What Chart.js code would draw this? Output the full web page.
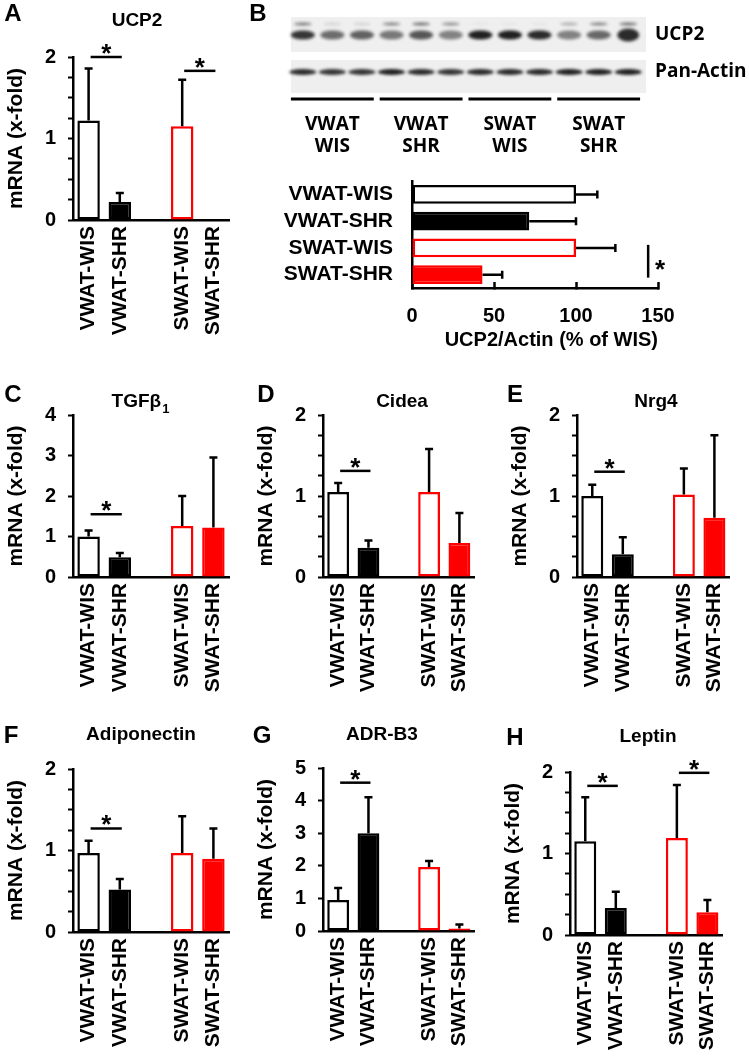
<!DOCTYPE html>
<html>
<head>
<meta charset="utf-8">
<script src="https://cdn.jsdelivr.net/npm/chart.js@4.4.1/dist/chart.umd.min.js"></script>
<style>
  html, body { margin: 0; padding: 0; background: #fff; }
  body { width: 749px; height: 1063px; position: relative; overflow: hidden; }
  canvas { position: absolute; }
</style>
</head>
<body>
<canvas id="blot"></canvas>
<canvas id="chartB"></canvas>
<canvas id="chartA"></canvas>
<canvas id="chartC"></canvas>
<canvas id="chartD"></canvas>
<canvas id="chartE"></canvas>
<canvas id="chartF"></canvas>
<canvas id="chartG"></canvas>
<canvas id="chartH"></canvas>
<script>
const groups = ['VWAT-WIS', 'VWAT-SHR', '', 'SWAT-WIS', 'SWAT-SHR'];

// mRNA (x-fold): mean and upper SD, null = gap between depots
const ucp2Mean   = [1.22, 0.22, null, 1.15, 0];
const ucp2Sd     = [0.64, 0.11, null, 0.57, 0];
const tgfMean    = [1.00, 0.49, null, 1.26, 1.22];
const tgfSd      = [0.15, 0.10, null, 0.74, 1.73];
const cideaMean  = [1.05, 0.36, null, 1.05, 0.42];
const cideaSd    = [0.11, 0.09, null, 0.53, 0.37];
const nrg4Mean   = [1.00, 0.28, null, 1.02, 0.73];
const nrg4Sd     = [0.14, 0.21, null, 0.32, 1.02];
const adipoMean  = [0.97, 0.52, null, 0.97, 0.90];
const adipoSd    = [0.15, 0.13, null, 0.45, 0.37];
const adrMean    = [0.95, 3.00, null, 1.96, 0.08];
const adrSd      = [0.37, 1.10, null, 0.19, 0.12];
const leptinMean = [1.15, 0.33, null, 1.19, 0.28];
const leptinSd   = [0.54, 0.20, null, 0.65, 0.15];

// y ticks (labels only on whole numbers)
const ticks2 = [0, 0.25, 0.5, 0.75, 1, 1.25, 1.5, 1.75, 2];
const ticks4 = [0, 1, 2, 3, 4];
const ticks5 = [0, 1, 2, 3, 4, 5];

// significance bars: [from bar, to bar, height]
const ucp2Sig   = [[0, 1, 2.0], [3, 4, 1.83]];
const tgfSig    = [[0, 1, 1.55]];
const cideaSig  = [[0, 1, 1.31]];
const nrg4Sig   = [[0, 1, 1.30]];
const adipoSig  = [[0, 1, 1.27]];
const adrSig    = [[0, 1, 4.55]];
const leptinSig = [[0, 1, 1.83], [3, 4, 1.99]];

// western blot (B)
const bLabels = ['VWAT-WIS', 'VWAT-SHR', 'SWAT-WIS', 'SWAT-SHR'];
const bMean = [100, 71.5, 100, 43];
const bSd = [13, 28.5, 24, 12];
const bTicks = [0, 50, 100, 150];
const bSig = [2, 3, 144];
const blotGroups = [['VWAT', 'WIS'], ['VWAT', 'SHR'], ['SWAT', 'WIS'], ['SWAT', 'SHR']];
const upperBand = [0.55, 0.12, 0.12, 0.5, 0.6, 0.45, 0.04, 0.04, 0.04, 0.3, 0.5, 0.6];
const ucp2Band  = [0.85, 0.6, 0.65, 0.55, 0.7, 0.5, 0.95, 0.95, 0.9, 0.5, 0.62, 0.9];
const actinBand = [0.9, 0.85, 0.85, 0.95, 0.9, 0.85, 0.9, 0.9, 0.9, 0.95, 0.95, 0.95];

const FONT = '"Liberation Sans", Arial, sans-serif';
const BLOTFONT = '"Open Sans", sans-serif';
Chart.defaults.font.family = FONT;
Chart.defaults.color = '#000';

const fillColors = ['#ffffff', '#000000', '#ffffff', '#ffffff', '#ff0000'];
const edgeColors = ['#000000', '#000000', '#000000', '#ff0000', '#ff0000'];

const panels = [
  { id: 'chartA', letter: 'A', title: 'UCP2', mean: ucp2Mean, sd: ucp2Sd, sig: ucp2Sig, ticks: ticks2,
    axisX: 73, topY: 57, zeroY: 220, right: 232, letterPos: [13, 14], titlePos: [137, 21] },
  { id: 'chartC', letter: 'C', title: 'TGFβ', sub: '1', mean: tgfMean, sd: tgfSd, sig: tgfSig, ticks: ticks4,
    axisX: 73, topY: 415, zeroY: 577, right: 232, letterPos: [13, 395], titlePos: [140, 402] },
  { id: 'chartD', letter: 'D', title: 'Cidea', mean: cideaMean, sd: cideaSd, sig: cideaSig, ticks: ticks2,
    axisX: 323, topY: 415, zeroY: 577, right: 478, letterPos: [266, 395], titlePos: [402, 402] },
  { id: 'chartE', letter: 'E', title: 'Nrg4', mean: nrg4Mean, sd: nrg4Sd, sig: nrg4Sig, ticks: ticks2,
    axisX: 577, topY: 415, zeroY: 577, right: 733, letterPos: [515, 395], titlePos: [656, 402] },
  { id: 'chartF', letter: 'F', title: 'Adiponectin', mean: adipoMean, sd: adipoSd, sig: adipoSig, ticks: ticks2,
    axisX: 73, topY: 769, zeroY: 932, right: 232, letterPos: [11, 736], titlePos: [141, 735] },
  { id: 'chartG', letter: 'G', title: 'ADR-B3', mean: adrMean, sd: adrSd, sig: adrSig, ticks: ticks5,
    axisX: 323, topY: 768, zeroY: 931, right: 478, letterPos: [262, 736], titlePos: [382, 735] },
  { id: 'chartH', letter: 'H', title: 'Leptin', mean: leptinMean, sd: leptinSd, sig: leptinSig, ticks: ticks2,
    axisX: 570, topY: 772, zeroY: 935, right: 726, letterPos: [515, 738], titlePos: [648, 737] }
];

function drawStar(ctx, x, y) {
  ctx.font = 'bold 26px ' + FONT;
  ctx.textAlign = 'center';
  ctx.textBaseline = 'alphabetic';
  ctx.fillText('*', x, y);
}

function panelPlugin(p, x0, y0) {
  return {
    id: 'panel',
    afterDatasetsDraw(chart) {
      const ctx = chart.ctx;
      const meta = chart.getDatasetMeta(0);
      const y = chart.scales.y;
      ctx.save();
      ctx.strokeStyle = '#000';
      ctx.fillStyle = '#000';
      ctx.lineWidth = 2.5;
      p.mean.forEach((m, i) => {
        if (m == null || !p.sd[i]) return;
        const bar = meta.data[i];
        const yTop = y.getPixelForValue(m + p.sd[i]);
        ctx.beginPath();
        ctx.moveTo(bar.x, bar.y);
        ctx.lineTo(bar.x, yTop);
        ctx.moveTo(bar.x - 4, yTop);
        ctx.lineTo(bar.x + 4, yTop);
        ctx.stroke();
      });
      p.sig.forEach(([a, b, v]) => {
        const x1 = meta.data[a].x + 2, x2 = meta.data[b].x + 2;
        const yy = y.getPixelForValue(v);
        ctx.beginPath();
        ctx.moveTo(x1, yy);
        ctx.lineTo(x2, yy);
        ctx.stroke();
        drawStar(ctx, (x1 + x2) / 2, yy + 5);
      });
      ctx.restore();
    },
    afterDraw(chart) {
      const ctx = chart.ctx;
      ctx.save();
      ctx.fillStyle = '#000';
      ctx.textBaseline = 'middle';
      ctx.textAlign = 'center';
      ctx.font = 'bold 24px ' + FONT;
      ctx.fillText(p.letter, p.letterPos[0] - x0, p.letterPos[1] - y0);
      ctx.font = 'bold 19px ' + FONT;
      const tx = p.titlePos[0] - x0, ty = p.titlePos[1] - y0;
      if (p.sub) {
        const w = ctx.measureText(p.title).width;
        ctx.font = 'bold 13px ' + FONT;
        const ws = ctx.measureText(p.sub).width;
        ctx.textAlign = 'left';
        ctx.font = 'bold 19px ' + FONT;
        ctx.fillText(p.title, tx - (w + ws) / 2, ty);
        ctx.font = 'bold 13px ' + FONT;
        ctx.fillText(p.sub, tx - (w + ws) / 2 + w + 1, ty + 7);
      } else {
        ctx.fillText(p.title, tx, ty);
      }
      ctx.restore();
    }
  };
}

function mrnaChart(p) {
  const x0 = p.axisX - 73, y0 = p.topY - 57;
  const w = p.right - x0 + 14, h = p.zeroY + 128 - y0;
  const cv = document.getElementById(p.id);
  cv.width = w; cv.height = h;
  cv.style.left = x0 + 'px'; cv.style.top = y0 + 'px';
  new Chart(cv, {
    type: 'bar',
    data: {
      labels: groups,
      datasets: [{
        data: p.mean,
        backgroundColor: fillColors,
        borderColor: edgeColors,
        borderWidth: 2.5,
        borderSkipped: false,
        categoryPercentage: 1,
        barPercentage: 0.72
      }]
    },
    options: {
      responsive: false,
      animation: false,
      devicePixelRatio: 1,
      layout: { padding: { left: 4, top: p.topY - y0, right: x0 + w - p.right, bottom: 2 } },
      plugins: { legend: { display: false }, tooltip: { enabled: false } },
      scales: {
        x: {
          grid: { display: true, drawOnChartArea: false, drawTicks: false },
          border: { color: '#000', width: 2.5 },
          ticks: { color: '#000', font: { size: 21, weight: 'bold' }, minRotation: 90, maxRotation: 90, autoSkip: false, padding: 6 },
          afterFit: s => { s.height = y0 + h - 2 - p.zeroY; }
        },
        y: {
          min: 0, max: p.ticks[p.ticks.length - 1],
          ticks: {
            autoSkip: false, color: '#000', padding: 12,
            font: { size: 20, weight: 'bold' },
            callback: v => Number.isInteger(v) ? v : ''
          },
          // use every tick value, also the unlabelled quarter steps
          afterBuildTicks: axis => { axis.ticks = p.ticks.map(v => ({ value: v })); },
          grid: { drawOnChartArea: false, drawTicks: true, tickLength: 5, tickWidth: 2, tickColor: '#000' },
          border: { color: '#000', width: 2.5 },
          title: { display: true, text: 'mRNA (x-fold)', color: '#000', font: { size: 21, weight: 'bold' }, padding: 0 },
          afterFit: s => { s.width = p.axisX - x0 - 4; }
        }
      }
    },
    plugins: [panelPlugin(p, x0, y0)]
  });
}

panels.forEach(mrnaChart);

// ---- B: densitometry bars ----
(function () {
  const x0 = 250, y0 = 146, w = 499, h = 214;
  const left = 412, top = 181, right = 658, bottom = 288;
  const cv = document.getElementById('chartB');
  cv.width = w; cv.height = h;
  cv.style.left = x0 + 'px'; cv.style.top = y0 + 'px';
  new Chart(cv, {
    type: 'bar',
    data: {
      labels: bLabels,
      datasets: [{
        data: bMean,
        backgroundColor: ['#ffffff', '#000000', '#ffffff', '#ff0000'],
        borderColor: ['#000000', '#000000', '#ff0000', '#ff0000'],
        borderWidth: 2.5,
        borderSkipped: false,
        categoryPercentage: 1,
        barPercentage: 0.7
      }]
    },
    options: {
      indexAxis: 'y',
      responsive: false,
      animation: false,
      devicePixelRatio: 1,
      layout: { padding: { left: 4, top: top - y0, right: x0 + w - right, bottom: 2 } },
      plugins: { legend: { display: false }, tooltip: { enabled: false } },
      scales: {
        x: {
          min: bTicks[0], max: bTicks[bTicks.length - 1],
          ticks: { color: '#000', font: { size: 20, weight: 'bold' }, padding: 22 },
          afterBuildTicks: axis => { axis.ticks = bTicks.map(v => ({ value: v })); },
          grid: { drawOnChartArea: false, drawTicks: true, tickLength: -6, tickWidth: 2.5, tickColor: '#000' },
          border: { color: '#000', width: 2.5 },
          title: { display: true, text: 'UCP2/Actin (% of WIS)', align: 'end', color: '#000', font: { size: 20, weight: 'bold' }, padding: { top: 0, bottom: 6 } },
          afterFit: s => { s.height = y0 + h - 2 - bottom; }
        },
        y: {
          ticks: { color: '#000', font: { size: 21, weight: 'bold' }, padding: 19, autoSkip: false },
          grid: { drawOnChartArea: false, drawTicks: false },
          border: { color: '#000', width: 2.5 },
          afterFit: s => { s.width = left - x0 - 4; }
        }
      }
    },
    plugins: [{
      id: 'errB',
      afterDatasetsDraw(chart) {
        const ctx = chart.ctx;
        const meta = chart.getDatasetMeta(0);
        const xs = chart.scales.x;
        ctx.save();
        ctx.strokeStyle = '#000';
        ctx.fillStyle = '#000';
        ctx.lineWidth = 2.5;
        bMean.forEach((m, i) => {
          const bar = meta.data[i];
          const xe = xs.getPixelForValue(m + bSd[i]);
          ctx.beginPath();
          ctx.moveTo(bar.x, bar.y);
          ctx.lineTo(xe, bar.y);
          ctx.moveTo(xe, bar.y - 4);
          ctx.lineTo(xe, bar.y + 4);
          ctx.stroke();
        });
        const xv = xs.getPixelForValue(bSig[2]);
        const ya = meta.data[bSig[0]].y - 3, yb = meta.data[bSig[1]].y + 3;
        ctx.beginPath();
        ctx.moveTo(xv, ya);
        ctx.lineTo(xv, yb);
        ctx.stroke();
        drawStar(ctx, xv + 12, (ya + yb) / 2 + 17);
        ctx.restore();
      }
    }]
  });
})();

// ---- B: blot image ----
(function () {
  const x0 = 250, y0 = 0, w = 499, h = 165;
  const padL = 35, padT = 10;
  const cv = document.getElementById('blot');
  cv.width = w; cv.height = h;
  cv.style.left = x0 + 'px'; cv.style.top = y0 + 'px';

  function band(bw, bh, a) {
    const c = document.createElement('canvas');
    c.width = bw + 10; c.height = bh + 10;
    const g = c.getContext('2d');
    g.filter = 'blur(1.8px)';
    g.fillStyle = 'rgba(20,20,20,' + a + ')';
    g.beginPath();
    g.ellipse(c.width / 2, c.height / 2, bw / 2, bh / 2, 0, 0, Math.PI * 2);
    g.fill();
    return c;
  }
  const upperImg = upperBand.map(a => band(18, 3, a));
  const ucp2Img = ucp2Band.map((a, i) => band(i === 11 ? 22 : 24, i === 11 ? 13 : 9, a));
  const actinImg = actinBand.map(a => band(27, 6, a));

  new Chart(cv, {
    type: 'scatter',
    data: {
      datasets: [
        { data: upperBand.map((a, i) => ({ x: i, y: 14 })), pointStyle: c => upperImg[c.dataIndex], pointRadius: 3 },
        { data: ucp2Band.map((a, i) => ({ x: i, y: 25 })), pointStyle: c => ucp2Img[c.dataIndex], pointRadius: 3 },
        { data: actinBand.map((a, i) => ({ x: i, y: 62 })), pointStyle: c => actinImg[c.dataIndex], pointRadius: 3 }
      ]
    },
    options: {
      responsive: false,
      animation: false,
      devicePixelRatio: 1,
      layout: { padding: { left: padL, top: padT, right: w - padL - 361, bottom: h - padT - 150 } },
      plugins: { legend: { display: false }, tooltip: { enabled: false } },
      scales: {
        x: { display: false, min: -0.6, max: 11.6 },
        y: { display: false, min: 0, max: 150, reverse: true }
      }
    },
    plugins: [{
      id: 'blotFrame',
      beforeDatasetsDraw(chart) {
        const ctx = chart.ctx, xs = chart.scales.x, ys = chart.scales.y;
        ctx.save();
        ctx.fillStyle = '#efefef';
        const xl = xs.getPixelForValue(-0.4), xr = xs.getPixelForValue(11.6);
        ctx.fillRect(xl, ys.getPixelForValue(7), xr - xl, ys.getPixelForValue(42) - ys.getPixelForValue(7));
        ctx.fillRect(xl, ys.getPixelForValue(50), xr - xl, ys.getPixelForValue(83) - ys.getPixelForValue(50));
        ctx.restore();
      },
      afterDatasetsDraw(chart) {
        const ctx = chart.ctx, xs = chart.scales.x, ys = chart.scales.y;
        ctx.save();
        ctx.fillStyle = '#000';
        ctx.strokeStyle = '#000';
        ctx.lineWidth = 3;
        ctx.textAlign = 'center';
        ctx.textBaseline = 'middle';
        ctx.font = 'bold 19px ' + BLOTFONT;
        blotGroups.forEach((gl, g) => {
          const a = xs.getPixelForValue(3 * g - 0.4), b = xs.getPixelForValue(3 * g + 2.4);
          const yl = ys.getPixelForValue(89);
          ctx.beginPath();
          ctx.moveTo(a, yl);
          ctx.lineTo(b, yl);
          ctx.stroke();
          const cx = xs.getPixelForValue(3 * g + 1);
          ctx.fillText(gl[0], cx, ys.getPixelForValue(115));
          ctx.fillText(gl[1], cx, ys.getPixelForValue(137));
        });
        ctx.textAlign = 'left';
        ctx.fillText('UCP2', 405, ys.getPixelForValue(25));
        ctx.fillText('Pan-Actin', 405, ys.getPixelForValue(62));
        ctx.textAlign = 'center';
        ctx.font = 'bold 24px ' + FONT;
        ctx.fillText('B', 8, 14);
        ctx.restore();
      }
    }]
  });
})();
</script>
</body>
</html>
